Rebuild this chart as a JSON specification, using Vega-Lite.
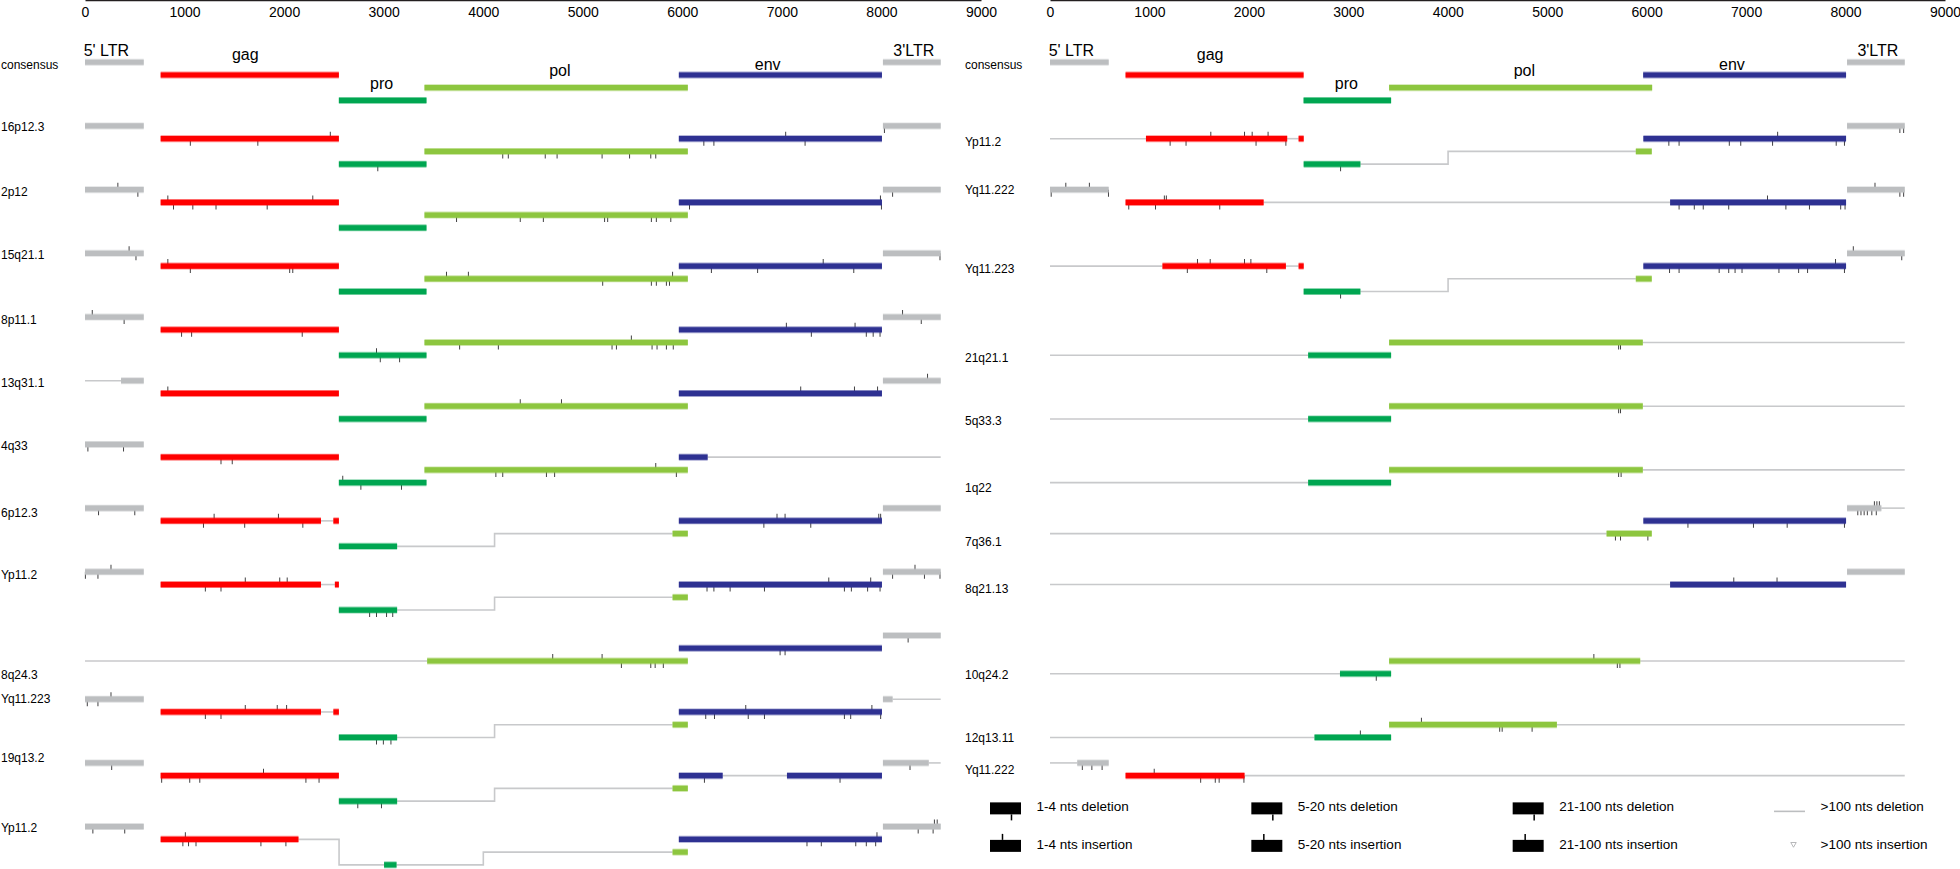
{
"$schema": "https://vega.github.io/schema/vega-lite/v6.json",
"padding": 0,
"bounds": "flush",
"spacing": 69,
"config": {
  "view": {"stroke": null},
  "font": "Liberation Sans",
  "tick": {"opacity": 1},
  "axisX": {"ticks": false, "tickSize": 0, "grid": false, "labelFlush": false, "labelOverlap": false, "labelPadding": -12, "labelBaseline": "middle", "labelFontSize": 14, "labelColor": "#000000", "domainColor": "#231F20", "domainWidth": 1.5}
},
"datasets": {
"segs": [
{"p":"L","lane":0,"g":"LTR","s":0,"e":590},{"p":"L","lane":1,"g":"gag","s":760,"e":2550},{"p":"L","lane":3,"g":"pro","s":2550,"e":3430},{"p":"L","lane":2,"g":"pol","s":3410,"e":6055},{"p":"L","lane":1,"g":"env","s":5965,"e":8005},{"p":"L","lane":0,"g":"LTR","s":8015,"e":8595},
{"p":"L","lane":5,"g":"LTR","s":0,"e":590},{"p":"L","lane":6,"g":"gag","s":760,"e":2550},{"p":"L","lane":8,"g":"pro","s":2550,"e":3430},{"p":"L","lane":7,"g":"pol","s":3410,"e":6055},{"p":"L","lane":6,"g":"env","s":5965,"e":8005},{"p":"L","lane":5,"g":"LTR","s":8015,"e":8595},
{"p":"L","lane":10,"g":"LTR","s":0,"e":590},{"p":"L","lane":11,"g":"gag","s":760,"e":2550},{"p":"L","lane":13,"g":"pro","s":2550,"e":3430},{"p":"L","lane":12,"g":"pol","s":3410,"e":6055},{"p":"L","lane":11,"g":"env","s":5965,"e":8005},{"p":"L","lane":10,"g":"LTR","s":8015,"e":8595},
{"p":"L","lane":15,"g":"LTR","s":0,"e":590},{"p":"L","lane":16,"g":"gag","s":760,"e":2550},{"p":"L","lane":18,"g":"pro","s":2550,"e":3430},{"p":"L","lane":17,"g":"pol","s":3410,"e":6055},{"p":"L","lane":16,"g":"env","s":5965,"e":8005},{"p":"L","lane":15,"g":"LTR","s":8015,"e":8595},
{"p":"L","lane":20,"g":"LTR","s":0,"e":590},{"p":"L","lane":21,"g":"gag","s":760,"e":2550},{"p":"L","lane":23,"g":"pro","s":2550,"e":3430},{"p":"L","lane":22,"g":"pol","s":3410,"e":6055},{"p":"L","lane":21,"g":"env","s":5965,"e":8005},{"p":"L","lane":20,"g":"LTR","s":8015,"e":8595},
{"p":"L","lane":25,"g":"LTR","s":362,"e":590},{"p":"L","lane":26,"g":"gag","s":760,"e":2550},{"p":"L","lane":28,"g":"pro","s":2550,"e":3430},{"p":"L","lane":27,"g":"pol","s":3410,"e":6055},{"p":"L","lane":26,"g":"env","s":5965,"e":8005},{"p":"L","lane":25,"g":"LTR","s":8015,"e":8595},
{"p":"L","lane":30,"g":"LTR","s":0,"e":590},{"p":"L","lane":31,"g":"gag","s":760,"e":2550},{"p":"L","lane":33,"g":"pro","s":2550,"e":3430},{"p":"L","lane":32,"g":"pol","s":3410,"e":6055},{"p":"L","lane":31,"g":"env","s":5965,"e":6254},
{"p":"L","lane":35,"g":"LTR","s":0,"e":590},{"p":"L","lane":36,"g":"gag","s":760,"e":2370},{"p":"L","lane":36,"g":"gag","s":2495,"e":2550},{"p":"L","lane":38,"g":"pro","s":2550,"e":3135},{"p":"L","lane":37,"g":"pol","s":5902,"e":6055},{"p":"L","lane":36,"g":"env","s":5965,"e":8005},{"p":"L","lane":35,"g":"LTR","s":8015,"e":8595},
{"p":"L","lane":40,"g":"LTR","s":0,"e":590},{"p":"L","lane":41,"g":"gag","s":760,"e":2370},{"p":"L","lane":41,"g":"gag","s":2510,"e":2550},{"p":"L","lane":43,"g":"pro","s":2550,"e":3135},{"p":"L","lane":42,"g":"pol","s":5902,"e":6055},{"p":"L","lane":41,"g":"env","s":5965,"e":8005},{"p":"L","lane":40,"g":"LTR","s":8015,"e":8595},
{"p":"L","lane":47,"g":"pol","s":3437,"e":6055},{"p":"L","lane":46,"g":"env","s":5965,"e":8005},{"p":"L","lane":45,"g":"LTR","s":8015,"e":8595},
{"p":"L","lane":50,"g":"LTR","s":0,"e":590},{"p":"L","lane":51,"g":"gag","s":760,"e":2370},{"p":"L","lane":51,"g":"gag","s":2495,"e":2550},{"p":"L","lane":53,"g":"pro","s":2550,"e":3135},{"p":"L","lane":52,"g":"pol","s":5902,"e":6055},{"p":"L","lane":51,"g":"env","s":5965,"e":8005},{"p":"L","lane":50,"g":"LTR","s":8015,"e":8112},
{"p":"L","lane":55,"g":"LTR","s":0,"e":590},{"p":"L","lane":56,"g":"gag","s":760,"e":2550},{"p":"L","lane":58,"g":"pro","s":2550,"e":3135},{"p":"L","lane":57,"g":"pol","s":5902,"e":6055},{"p":"L","lane":56,"g":"env","s":5965,"e":6405},{"p":"L","lane":56,"g":"env","s":7051,"e":8005},{"p":"L","lane":55,"g":"LTR","s":8015,"e":8475},
{"p":"L","lane":60,"g":"LTR","s":0,"e":590},{"p":"L","lane":61,"g":"gag","s":760,"e":2144},{"p":"L","lane":63,"g":"pro","s":3004,"e":3129},{"p":"L","lane":62,"g":"pol","s":5902,"e":6055},{"p":"L","lane":61,"g":"env","s":5965,"e":8005},{"p":"L","lane":60,"g":"LTR","s":8015,"e":8595},
{"p":"R","lane":0,"g":"LTR","s":0,"e":590},{"p":"R","lane":1,"g":"gag","s":760,"e":2550},{"p":"R","lane":3,"g":"pro","s":2550,"e":3430},{"p":"R","lane":2,"g":"pol","s":3410,"e":6055},{"p":"R","lane":1,"g":"env","s":5965,"e":8005},{"p":"R","lane":0,"g":"LTR","s":8015,"e":8595},
{"p":"R","lane":6,"g":"gag","s":965,"e":2385},{"p":"R","lane":6,"g":"gag","s":2500,"e":2551},{"p":"R","lane":8,"g":"pro","s":2551,"e":3121},{"p":"R","lane":7,"g":"pol","s":5891,"e":6051},{"p":"R","lane":6,"g":"env","s":5967,"e":8005},{"p":"R","lane":5,"g":"LTR","s":8015,"e":8595},
{"p":"R","lane":10,"g":"LTR","s":0,"e":590},{"p":"R","lane":11,"g":"gag","s":760,"e":2148},{"p":"R","lane":11,"g":"env","s":6236,"e":8005},{"p":"R","lane":10,"g":"LTR","s":8015,"e":8595},
{"p":"R","lane":16,"g":"gag","s":1131,"e":2372},{"p":"R","lane":16,"g":"gag","s":2500,"e":2551},{"p":"R","lane":18,"g":"pro","s":2551,"e":3121},{"p":"R","lane":17,"g":"pol","s":5891,"e":6051},{"p":"R","lane":16,"g":"env","s":5967,"e":8005},{"p":"R","lane":15,"g":"LTR","s":8015,"e":8595},
{"p":"R","lane":23,"g":"pro","s":2596,"e":3430},{"p":"R","lane":22,"g":"pol","s":3410,"e":5961},
{"p":"R","lane":28,"g":"pro","s":2596,"e":3430},{"p":"R","lane":27,"g":"pol","s":3410,"e":5961},
{"p":"R","lane":33,"g":"pro","s":2596,"e":3430},{"p":"R","lane":32,"g":"pol","s":3410,"e":5961},
{"p":"R","lane":37,"g":"pol","s":5597,"e":6051},{"p":"R","lane":36,"g":"env","s":5967,"e":8005},{"p":"R","lane":35,"g":"LTR","s":8015,"e":8360},
{"p":"R","lane":41,"g":"env","s":6236,"e":8005},{"p":"R","lane":40,"g":"LTR","s":8015,"e":8595},
{"p":"R","lane":48,"g":"pro","s":2916,"e":3430},{"p":"R","lane":47,"g":"pol","s":3410,"e":5935},
{"p":"R","lane":53,"g":"pro","s":2660,"e":3430},{"p":"R","lane":52,"g":"pol","s":3410,"e":5097},
{"p":"R","lane":55,"g":"LTR","s":274,"e":590},{"p":"R","lane":56,"g":"gag","s":760,"e":1956}
],
"dl": [
{"p":"L","id":"L5a","o":0,"x":0,"lane":25},{"p":"L","id":"L5a","o":1,"x":362,"lane":25},
{"p":"L","id":"L6a","o":0,"x":6254,"lane":31},{"p":"L","id":"L6a","o":1,"x":8595,"lane":31},
{"p":"L","id":"L7a","o":0,"x":2370,"lane":36},{"p":"L","id":"L7a","o":1,"x":2495,"lane":36},
{"p":"L","id":"L7b","o":0,"x":3135,"lane":38},{"p":"L","id":"L7b","o":1,"x":4114,"lane":38},{"p":"L","id":"L7b","o":2,"x":4114,"lane":37},{"p":"L","id":"L7b","o":3,"x":5902,"lane":37},
{"p":"L","id":"L8a","o":0,"x":2370,"lane":41},{"p":"L","id":"L8a","o":1,"x":2510,"lane":41},
{"p":"L","id":"L8b","o":0,"x":3135,"lane":43},{"p":"L","id":"L8b","o":1,"x":4114,"lane":43},{"p":"L","id":"L8b","o":2,"x":4114,"lane":42},{"p":"L","id":"L8b","o":3,"x":5902,"lane":42},
{"p":"L","id":"L9a","o":0,"x":0,"lane":47},{"p":"L","id":"L9a","o":1,"x":3437,"lane":47},
{"p":"L","id":"L10a","o":0,"x":2370,"lane":51},{"p":"L","id":"L10a","o":1,"x":2495,"lane":51},
{"p":"L","id":"L10b","o":0,"x":3135,"lane":53},{"p":"L","id":"L10b","o":1,"x":4114,"lane":53},{"p":"L","id":"L10b","o":2,"x":4114,"lane":52},{"p":"L","id":"L10b","o":3,"x":5902,"lane":52},
{"p":"L","id":"L10c","o":0,"x":8112,"lane":50},{"p":"L","id":"L10c","o":1,"x":8595,"lane":50},
{"p":"L","id":"L11a","o":0,"x":3135,"lane":58},{"p":"L","id":"L11a","o":1,"x":4114,"lane":58},{"p":"L","id":"L11a","o":2,"x":4114,"lane":57},{"p":"L","id":"L11a","o":3,"x":5902,"lane":57},
{"p":"L","id":"L11b","o":0,"x":6405,"lane":56},{"p":"L","id":"L11b","o":1,"x":7051,"lane":56},
{"p":"L","id":"L11c","o":0,"x":8475,"lane":55},{"p":"L","id":"L11c","o":1,"x":8595,"lane":55},
{"p":"L","id":"L12a","o":0,"x":2144,"lane":61},{"p":"L","id":"L12a","o":1,"x":2552,"lane":61},{"p":"L","id":"L12a","o":2,"x":2552,"lane":63},{"p":"L","id":"L12a","o":3,"x":3004,"lane":63},
{"p":"L","id":"L12b","o":0,"x":3129,"lane":63},{"p":"L","id":"L12b","o":1,"x":4001,"lane":63},{"p":"L","id":"L12b","o":2,"x":4001,"lane":62},{"p":"L","id":"L12b","o":3,"x":5902,"lane":62},
{"p":"R","id":"R1a","o":0,"x":0,"lane":6},{"p":"R","id":"R1a","o":1,"x":965,"lane":6},
{"p":"R","id":"R1b","o":0,"x":2385,"lane":6},{"p":"R","id":"R1b","o":1,"x":2500,"lane":6},
{"p":"R","id":"R1c","o":0,"x":3121,"lane":8},{"p":"R","id":"R1c","o":1,"x":4003,"lane":8},{"p":"R","id":"R1c","o":2,"x":4003,"lane":7},{"p":"R","id":"R1c","o":3,"x":5891,"lane":7},
{"p":"R","id":"R2a","o":0,"x":2148,"lane":11},{"p":"R","id":"R2a","o":1,"x":6236,"lane":11},
{"p":"R","id":"R3a","o":0,"x":0,"lane":16},{"p":"R","id":"R3a","o":1,"x":1131,"lane":16},
{"p":"R","id":"R3b","o":0,"x":2372,"lane":16},{"p":"R","id":"R3b","o":1,"x":2500,"lane":16},
{"p":"R","id":"R3c","o":0,"x":3121,"lane":18},{"p":"R","id":"R3c","o":1,"x":4003,"lane":18},{"p":"R","id":"R3c","o":2,"x":4003,"lane":17},{"p":"R","id":"R3c","o":3,"x":5891,"lane":17},
{"p":"R","id":"R4a","o":0,"x":0,"lane":23},{"p":"R","id":"R4a","o":1,"x":2596,"lane":23},
{"p":"R","id":"R4b","o":0,"x":5961,"lane":22},{"p":"R","id":"R4b","o":1,"x":8595,"lane":22},
{"p":"R","id":"R5a","o":0,"x":0,"lane":28},{"p":"R","id":"R5a","o":1,"x":2596,"lane":28},
{"p":"R","id":"R5b","o":0,"x":5961,"lane":27},{"p":"R","id":"R5b","o":1,"x":8595,"lane":27},
{"p":"R","id":"R6a","o":0,"x":0,"lane":33},{"p":"R","id":"R6a","o":1,"x":2596,"lane":33},
{"p":"R","id":"R6b","o":0,"x":5961,"lane":32},{"p":"R","id":"R6b","o":1,"x":8595,"lane":32},
{"p":"R","id":"R7a","o":0,"x":0,"lane":37},{"p":"R","id":"R7a","o":1,"x":5597,"lane":37},
{"p":"R","id":"R7b","o":0,"x":8360,"lane":35},{"p":"R","id":"R7b","o":1,"x":8595,"lane":35},
{"p":"R","id":"R8a","o":0,"x":0,"lane":41},{"p":"R","id":"R8a","o":1,"x":6236,"lane":41},
{"p":"R","id":"R9a","o":0,"x":0,"lane":48},{"p":"R","id":"R9a","o":1,"x":2916,"lane":48},
{"p":"R","id":"R9b","o":0,"x":5935,"lane":47},{"p":"R","id":"R9b","o":1,"x":8595,"lane":47},
{"p":"R","id":"R10a","o":0,"x":0,"lane":53},{"p":"R","id":"R10a","o":1,"x":2660,"lane":53},
{"p":"R","id":"R10b","o":0,"x":5097,"lane":52},{"p":"R","id":"R10b","o":1,"x":8595,"lane":52},
{"p":"R","id":"R11a","o":0,"x":0,"lane":55},{"p":"R","id":"R11a","o":1,"x":274,"lane":55},
{"p":"R","id":"R11b","o":0,"x":1956,"lane":56},{"p":"R","id":"R11b","o":1,"x":8595,"lane":56}
],
"tk": [
{"p":"L","lane":6,"x":2464,"t":"i"},{"p":"L","lane":6,"x":1058,"t":"d"},{"p":"L","lane":6,"x":1736,"t":"d"},{"p":"L","lane":8,"x":2941,"t":"d"},{"p":"L","lane":7,"x":4196,"t":"d"},{"p":"L","lane":7,"x":4252,"t":"d"},{"p":"L","lane":7,"x":4623,"t":"d"},{"p":"L","lane":7,"x":4742,"t":"d"},{"p":"L","lane":7,"x":5194,"t":"d"},{"p":"L","lane":7,"x":5470,"t":"d"},{"p":"L","lane":7,"x":5683,"t":"d"},{"p":"L","lane":7,"x":5733,"t":"d"},{"p":"L","lane":6,"x":7038,"t":"i"},{"p":"L","lane":6,"x":6216,"t":"d"},{"p":"L","lane":6,"x":6317,"t":"d"},{"p":"L","lane":6,"x":7233,"t":"d"},{"p":"L","lane":5,"x":8030,"t":"d"},
{"p":"L","lane":10,"x":330,"t":"i"},{"p":"L","lane":10,"x":531,"t":"d"},{"p":"L","lane":11,"x":832,"t":"i"},{"p":"L","lane":11,"x":2288,"t":"i"},{"p":"L","lane":11,"x":889,"t":"d"},{"p":"L","lane":11,"x":1083,"t":"d"},{"p":"L","lane":11,"x":1316,"t":"d"},{"p":"L","lane":11,"x":1830,"t":"d"},{"p":"L","lane":12,"x":3732,"t":"d"},{"p":"L","lane":12,"x":4372,"t":"d"},{"p":"L","lane":12,"x":4604,"t":"d"},{"p":"L","lane":12,"x":5219,"t":"d"},{"p":"L","lane":12,"x":5250,"t":"d"},{"p":"L","lane":12,"x":5689,"t":"d"},{"p":"L","lane":12,"x":5739,"t":"d"},{"p":"L","lane":12,"x":5884,"t":"d"},{"p":"L","lane":11,"x":7990,"t":"i"},{"p":"L","lane":11,"x":6072,"t":"d"},{"p":"L","lane":11,"x":8000,"t":"d"},{"p":"L","lane":10,"x":8112,"t":"d"},
{"p":"L","lane":15,"x":443,"t":"i"},{"p":"L","lane":15,"x":512,"t":"d"},{"p":"L","lane":16,"x":832,"t":"i"},{"p":"L","lane":16,"x":1058,"t":"d"},{"p":"L","lane":16,"x":2056,"t":"d"},{"p":"L","lane":16,"x":2087,"t":"d"},{"p":"L","lane":17,"x":3631,"t":"i"},{"p":"L","lane":17,"x":3851,"t":"i"},{"p":"L","lane":17,"x":5902,"t":"i"},{"p":"L","lane":17,"x":5200,"t":"d"},{"p":"L","lane":17,"x":5689,"t":"d"},{"p":"L","lane":17,"x":5739,"t":"d"},{"p":"L","lane":17,"x":5840,"t":"d"},{"p":"L","lane":17,"x":5871,"t":"d"},{"p":"L","lane":16,"x":7415,"t":"i"},{"p":"L","lane":16,"x":6292,"t":"d"},{"p":"L","lane":16,"x":6756,"t":"d"},{"p":"L","lane":16,"x":7722,"t":"d"},{"p":"L","lane":15,"x":8588,"t":"d"},
{"p":"L","lane":20,"x":73,"t":"i"},{"p":"L","lane":20,"x":393,"t":"d"},{"p":"L","lane":21,"x":970,"t":"d"},{"p":"L","lane":21,"x":1071,"t":"d"},{"p":"L","lane":21,"x":2182,"t":"d"},{"p":"L","lane":23,"x":2928,"t":"i"},{"p":"L","lane":23,"x":2966,"t":"d"},{"p":"L","lane":23,"x":3160,"t":"d"},{"p":"L","lane":22,"x":5488,"t":"i"},{"p":"L","lane":22,"x":3763,"t":"d"},{"p":"L","lane":22,"x":4152,"t":"d"},{"p":"L","lane":22,"x":5294,"t":"d"},{"p":"L","lane":22,"x":5338,"t":"d"},{"p":"L","lane":22,"x":5696,"t":"d"},{"p":"L","lane":22,"x":5746,"t":"d"},{"p":"L","lane":22,"x":5840,"t":"d"},{"p":"L","lane":22,"x":5909,"t":"d"},{"p":"L","lane":21,"x":7045,"t":"i"},{"p":"L","lane":21,"x":7735,"t":"i"},{"p":"L","lane":21,"x":7296,"t":"d"},{"p":"L","lane":21,"x":7848,"t":"d"},{"p":"L","lane":21,"x":7917,"t":"d"},{"p":"L","lane":21,"x":7986,"t":"d"},{"p":"L","lane":20,"x":8212,"t":"i"},{"p":"L","lane":20,"x":8400,"t":"d"},
{"p":"L","lane":26,"x":832,"t":"i"},{"p":"L","lane":27,"x":4372,"t":"i"},{"p":"L","lane":27,"x":4786,"t":"i"},{"p":"L","lane":26,"x":7189,"t":"i"},{"p":"L","lane":26,"x":7729,"t":"i"},{"p":"L","lane":26,"x":7961,"t":"i"},{"p":"L","lane":25,"x":8463,"t":"i"},
{"p":"L","lane":30,"x":29,"t":"d"},{"p":"L","lane":30,"x":387,"t":"d"},{"p":"L","lane":31,"x":1366,"t":"d"},{"p":"L","lane":31,"x":1479,"t":"d"},{"p":"L","lane":33,"x":2589,"t":"i"},{"p":"L","lane":33,"x":2771,"t":"d"},{"p":"L","lane":33,"x":3179,"t":"d"},{"p":"L","lane":32,"x":5733,"t":"i"},{"p":"L","lane":32,"x":4127,"t":"d"},{"p":"L","lane":32,"x":4196,"t":"d"},{"p":"L","lane":32,"x":4635,"t":"d"},{"p":"L","lane":32,"x":4717,"t":"d"},{"p":"L","lane":32,"x":5940,"t":"d"},
{"p":"L","lane":35,"x":136,"t":"d"},{"p":"L","lane":35,"x":500,"t":"d"},{"p":"L","lane":36,"x":1297,"t":"i"},{"p":"L","lane":36,"x":1943,"t":"i"},{"p":"L","lane":36,"x":1190,"t":"d"},{"p":"L","lane":36,"x":1604,"t":"d"},{"p":"L","lane":36,"x":2188,"t":"d"},{"p":"L","lane":36,"x":6951,"t":"i"},{"p":"L","lane":36,"x":7032,"t":"i"},{"p":"L","lane":36,"x":7973,"t":"i"},{"p":"L","lane":36,"x":7992,"t":"i"},{"p":"L","lane":36,"x":6819,"t":"d"},{"p":"L","lane":36,"x":7290,"t":"d"},
{"p":"L","lane":40,"x":261,"t":"i"},{"p":"L","lane":40,"x":4,"t":"d"},{"p":"L","lane":40,"x":130,"t":"d"},{"p":"L","lane":41,"x":1610,"t":"i"},{"p":"L","lane":41,"x":1956,"t":"i"},{"p":"L","lane":41,"x":2031,"t":"i"},{"p":"L","lane":41,"x":1209,"t":"d"},{"p":"L","lane":41,"x":1366,"t":"d"},{"p":"L","lane":43,"x":2859,"t":"d"},{"p":"L","lane":43,"x":2928,"t":"d"},{"p":"L","lane":43,"x":3029,"t":"d"},{"p":"L","lane":43,"x":3091,"t":"d"},{"p":"L","lane":41,"x":7471,"t":"i"},{"p":"L","lane":41,"x":7892,"t":"i"},{"p":"L","lane":41,"x":6248,"t":"d"},{"p":"L","lane":41,"x":6317,"t":"d"},{"p":"L","lane":41,"x":6480,"t":"d"},{"p":"L","lane":41,"x":6825,"t":"d"},{"p":"L","lane":41,"x":7628,"t":"d"},{"p":"L","lane":41,"x":7698,"t":"d"},{"p":"L","lane":41,"x":7861,"t":"d"},{"p":"L","lane":41,"x":7986,"t":"d"},{"p":"L","lane":40,"x":8337,"t":"i"},{"p":"L","lane":40,"x":8112,"t":"d"},{"p":"L","lane":40,"x":8432,"t":"d"},{"p":"L","lane":40,"x":8588,"t":"d"},
{"p":"L","lane":47,"x":4698,"t":"i"},{"p":"L","lane":47,"x":5194,"t":"i"},{"p":"L","lane":47,"x":5388,"t":"d"},{"p":"L","lane":47,"x":5683,"t":"d"},{"p":"L","lane":47,"x":5727,"t":"d"},{"p":"L","lane":47,"x":5809,"t":"d"},{"p":"L","lane":46,"x":6982,"t":"d"},{"p":"L","lane":46,"x":7032,"t":"d"},{"p":"L","lane":45,"x":8268,"t":"d"},
{"p":"L","lane":50,"x":261,"t":"i"},{"p":"L","lane":50,"x":23,"t":"d"},{"p":"L","lane":50,"x":130,"t":"d"},{"p":"L","lane":51,"x":1610,"t":"i"},{"p":"L","lane":51,"x":1931,"t":"i"},{"p":"L","lane":51,"x":2025,"t":"i"},{"p":"L","lane":51,"x":1209,"t":"d"},{"p":"L","lane":51,"x":1366,"t":"d"},{"p":"L","lane":53,"x":2928,"t":"d"},{"p":"L","lane":53,"x":2997,"t":"d"},{"p":"L","lane":53,"x":3073,"t":"d"},{"p":"L","lane":51,"x":6637,"t":"i"},{"p":"L","lane":51,"x":7904,"t":"i"},{"p":"L","lane":51,"x":6235,"t":"d"},{"p":"L","lane":51,"x":6323,"t":"d"},{"p":"L","lane":51,"x":6662,"t":"d"},{"p":"L","lane":51,"x":6825,"t":"d"},{"p":"L","lane":51,"x":7628,"t":"d"},{"p":"L","lane":51,"x":7691,"t":"d"},{"p":"L","lane":51,"x":7992,"t":"d"},
{"p":"L","lane":55,"x":268,"t":"d"},{"p":"L","lane":56,"x":1793,"t":"i"},{"p":"L","lane":56,"x":770,"t":"d"},{"p":"L","lane":56,"x":1052,"t":"d"},{"p":"L","lane":56,"x":1153,"t":"d"},{"p":"L","lane":56,"x":2219,"t":"d"},{"p":"L","lane":56,"x":2351,"t":"d"},{"p":"L","lane":58,"x":2740,"t":"d"},{"p":"L","lane":58,"x":2978,"t":"d"},{"p":"L","lane":56,"x":6222,"t":"d"},{"p":"L","lane":56,"x":7584,"t":"d"},{"p":"L","lane":55,"x":8287,"t":"d"},
{"p":"L","lane":60,"x":79,"t":"d"},{"p":"L","lane":60,"x":399,"t":"d"},{"p":"L","lane":61,"x":1008,"t":"i"},{"p":"L","lane":61,"x":983,"t":"d"},{"p":"L","lane":61,"x":1040,"t":"d"},{"p":"L","lane":61,"x":1115,"t":"d"},{"p":"L","lane":61,"x":1767,"t":"d"},{"p":"L","lane":61,"x":2018,"t":"d"},{"p":"L","lane":61,"x":7955,"t":"i"},{"p":"L","lane":61,"x":7252,"t":"d"},{"p":"L","lane":61,"x":7396,"t":"d"},{"p":"L","lane":61,"x":7742,"t":"d"},{"p":"L","lane":61,"x":7848,"t":"d"},{"p":"L","lane":61,"x":7942,"t":"d"},{"p":"L","lane":60,"x":8532,"t":"i"},{"p":"L","lane":60,"x":8560,"t":"i"},{"p":"L","lane":60,"x":8369,"t":"d"},{"p":"L","lane":60,"x":8519,"t":"d"},
{"p":"R","lane":6,"x":1617,"t":"i"},{"p":"R","lane":6,"x":1956,"t":"i"},{"p":"R","lane":6,"x":2033,"t":"i"},{"p":"R","lane":6,"x":2193,"t":"i"},{"p":"R","lane":6,"x":1208,"t":"d"},{"p":"R","lane":6,"x":1368,"t":"d"},{"p":"R","lane":6,"x":2072,"t":"d"},{"p":"R","lane":6,"x":2372,"t":"d"},{"p":"R","lane":8,"x":2922,"t":"d"},{"p":"R","lane":6,"x":7317,"t":"i"},{"p":"R","lane":6,"x":6223,"t":"d"},{"p":"R","lane":6,"x":6326,"t":"d"},{"p":"R","lane":6,"x":6831,"t":"d"},{"p":"R","lane":6,"x":6946,"t":"d"},{"p":"R","lane":6,"x":7266,"t":"d"},{"p":"R","lane":6,"x":7906,"t":"d"},{"p":"R","lane":6,"x":7989,"t":"d"},{"p":"R","lane":5,"x":8546,"t":"d"},{"p":"R","lane":5,"x":8584,"t":"d"},
{"p":"R","lane":10,"x":159,"t":"i"},{"p":"R","lane":10,"x":396,"t":"i"},{"p":"R","lane":10,"x":12,"t":"d"},{"p":"R","lane":10,"x":588,"t":"d"},{"p":"R","lane":11,"x":1150,"t":"i"},{"p":"R","lane":11,"x":1170,"t":"i"},{"p":"R","lane":11,"x":792,"t":"d"},{"p":"R","lane":11,"x":1061,"t":"d"},{"p":"R","lane":11,"x":1707,"t":"d"},{"p":"R","lane":11,"x":7215,"t":"i"},{"p":"R","lane":11,"x":6326,"t":"d"},{"p":"R","lane":11,"x":6479,"t":"d"},{"p":"R","lane":11,"x":6569,"t":"d"},{"p":"R","lane":11,"x":6825,"t":"d"},{"p":"R","lane":11,"x":7400,"t":"d"},{"p":"R","lane":11,"x":7637,"t":"d"},{"p":"R","lane":11,"x":7951,"t":"d"},{"p":"R","lane":11,"x":7995,"t":"d"},{"p":"R","lane":10,"x":8296,"t":"i"},{"p":"R","lane":10,"x":8546,"t":"d"},{"p":"R","lane":10,"x":8584,"t":"d"},
{"p":"R","lane":16,"x":1483,"t":"i"},{"p":"R","lane":16,"x":1611,"t":"i"},{"p":"R","lane":16,"x":1956,"t":"i"},{"p":"R","lane":16,"x":2020,"t":"i"},{"p":"R","lane":16,"x":1381,"t":"d"},{"p":"R","lane":16,"x":2180,"t":"d"},{"p":"R","lane":18,"x":2922,"t":"d"},{"p":"R","lane":16,"x":7899,"t":"i"},{"p":"R","lane":16,"x":6230,"t":"d"},{"p":"R","lane":16,"x":6326,"t":"d"},{"p":"R","lane":16,"x":6729,"t":"d"},{"p":"R","lane":16,"x":6825,"t":"d"},{"p":"R","lane":16,"x":6889,"t":"d"},{"p":"R","lane":16,"x":6959,"t":"d"},{"p":"R","lane":16,"x":7330,"t":"d"},{"p":"R","lane":16,"x":7528,"t":"d"},{"p":"R","lane":16,"x":7618,"t":"d"},{"p":"R","lane":16,"x":7989,"t":"d"},{"p":"R","lane":15,"x":8078,"t":"i"},{"p":"R","lane":15,"x":8565,"t":"d"},
{"p":"R","lane":22,"x":5718,"t":"d"},{"p":"R","lane":22,"x":5737,"t":"d"},
{"p":"R","lane":27,"x":5718,"t":"d"},{"p":"R","lane":27,"x":5737,"t":"d"},
{"p":"R","lane":32,"x":5718,"t":"d"},{"p":"R","lane":32,"x":5743,"t":"d"},
{"p":"R","lane":37,"x":5686,"t":"d"},{"p":"R","lane":37,"x":5737,"t":"d"},{"p":"R","lane":37,"x":6012,"t":"d"},{"p":"R","lane":36,"x":6415,"t":"d"},{"p":"R","lane":36,"x":7074,"t":"d"},{"p":"R","lane":36,"x":7413,"t":"d"},{"p":"R","lane":36,"x":7989,"t":"d"},{"p":"R","lane":35,"x":8290,"t":"i"},{"p":"R","lane":35,"x":8315,"t":"i"},{"p":"R","lane":35,"x":8340,"t":"i"},{"p":"R","lane":35,"x":8123,"t":"d"},{"p":"R","lane":35,"x":8155,"t":"d"},{"p":"R","lane":35,"x":8187,"t":"d"},{"p":"R","lane":35,"x":8219,"t":"d"},{"p":"R","lane":35,"x":8264,"t":"d"},{"p":"R","lane":35,"x":8309,"t":"d"},
{"p":"R","lane":41,"x":6876,"t":"i"},{"p":"R","lane":41,"x":7311,"t":"i"},
{"p":"R","lane":48,"x":3281,"t":"d"},{"p":"R","lane":47,"x":5469,"t":"i"},{"p":"R","lane":47,"x":5705,"t":"d"},{"p":"R","lane":47,"x":5731,"t":"d"},
{"p":"R","lane":53,"x":3121,"t":"i"},{"p":"R","lane":52,"x":3735,"t":"i"},{"p":"R","lane":52,"x":4522,"t":"d"},{"p":"R","lane":52,"x":4547,"t":"d"},{"p":"R","lane":52,"x":4848,"t":"d"},
{"p":"R","lane":55,"x":325,"t":"d"},{"p":"R","lane":55,"x":421,"t":"d"},{"p":"R","lane":55,"x":524,"t":"d"},{"p":"R","lane":56,"x":1048,"t":"i"},{"p":"R","lane":56,"x":1515,"t":"d"},{"p":"R","lane":56,"x":1662,"t":"d"},{"p":"R","lane":56,"x":1701,"t":"d"},{"p":"R","lane":56,"x":1950,"t":"d"}
],
"names": [
{"p":"L","lane":0.25,"name":"consensus"},{"p":"L","lane":5.08,"name":"16p12.3"},{"p":"L","lane":10.2,"name":"2p12"},{"p":"L","lane":15.13,"name":"15q21.1"},{"p":"L","lane":20.2,"name":"8p11.1"},{"p":"L","lane":25.15,"name":"13q31.1"},{"p":"L","lane":30.1,"name":"4q33"},{"p":"L","lane":35.4,"name":"6p12.3"},{"p":"L","lane":40.22,"name":"Yp11.2"},{"p":"L","lane":48.1,"name":"8q24.3"},{"p":"L","lane":49.98,"name":"Yq11.223"},{"p":"L","lane":54.6,"name":"19q13.2"},{"p":"L","lane":60.1,"name":"Yp11.2"},
{"p":"R","lane":0.25,"name":"consensus"},{"p":"R","lane":6.25,"name":"Yp11.2"},{"p":"R","lane":10.05,"name":"Yq11.222"},{"p":"R","lane":16.2,"name":"Yq11.223"},{"p":"R","lane":23.2,"name":"21q21.1"},{"p":"R","lane":28.15,"name":"5q33.3"},{"p":"R","lane":33.4,"name":"1q22"},{"p":"R","lane":37.65,"name":"7q36.1"},{"p":"R","lane":41.35,"name":"8q21.13"},{"p":"R","lane":48.1,"name":"10q24.2"},{"p":"R","lane":53.05,"name":"12q13.11"},{"p":"R","lane":55.55,"name":"Yq11.222"}
],
"genes": [
{"x":215,"lane":-0.47,"name":"5' LTR"},{"x":1610,"lane":-0.16,"name":"gag"},{"x":2980,"lane":2.08,"name":"pro"},{"x":4770,"lane":1.1,"name":"pol"},{"x":6857,"lane":0.59,"name":"env"},{"x":8325,"lane":-0.47,"name":"3'LTR"}
],
"leg": [
{"col":0,"row":0,"label":"1-4 nts deletion"},{"col":0,"row":1,"label":"1-4 nts insertion"},{"col":1,"row":0,"label":"5-20 nts deletion"},{"col":1,"row":1,"label":"5-20 nts insertion"},{"col":2,"row":0,"label":"21-100 nts deletion"},{"col":2,"row":1,"label":"21-100 nts insertion"},{"col":3,"row":0,"label":">100 nts deletion"},{"col":3,"row":1,"label":">100 nts insertion"}
]
},
"hconcat": [
{
"width": 896, "height": 867,
"layer": [
{"data":{"name":"dl"},"transform":[{"filter":"datum.p==='L'"}],"mark":{"type":"line","color":"#C8C9CB","strokeWidth":1.6},
 "encoding":{"x":{"field":"x","type":"quantitative","scale":{"domain":[0,9000],"nice":false,"zero":false},"axis":{"orient":"top","title":null,"values":[0,1000,2000,3000,4000,5000,6000,7000,8000,9000],"format":"d"}},
 "y":{"field":"lane","type":"quantitative","scale":{"domain":[-4.886,63.17],"reverse":true,"nice":false,"zero":false},"axis":null},
 "detail":{"field":"id"},"order":{"field":"o","type":"quantitative"}}},
{"data":{"name":"tk"},"transform":[{"filter":"datum.p==='L' && datum.t==='d'"}],"mark":{"type":"tick","orient":"vertical","size":7,"thickness":1,"yOffset":3.5,"opacity":1,"color":"#414042"},
 "encoding":{"x":{"field":"x","type":"quantitative","axis":{"orient":"top","title":null}},"y":{"field":"lane","type":"quantitative","axis":null}}},
{"data":{"name":"tk"},"transform":[{"filter":"datum.p==='L' && datum.t==='i'"}],"mark":{"type":"tick","orient":"vertical","size":7,"thickness":1,"yOffset":-3.5,"opacity":1,"color":"#414042"},
 "encoding":{"x":{"field":"x","type":"quantitative","axis":{"orient":"top","title":null}},"y":{"field":"lane","type":"quantitative","axis":null}}},
{"data":{"name":"segs"},"transform":[{"filter":"datum.p==='L'"}],"mark":{"type":"rule","strokeWidth":7,"opacity":0.45},
 "encoding":{"x":{"field":"s","type":"quantitative","axis":{"orient":"top","title":null}},"x2":{"field":"e"},"y":{"field":"lane","type":"quantitative","axis":null},
 "color":{"field":"g","type":"nominal","scale":{"domain":["LTR","gag","pro","pol","env"],"range":["#BCBEC0","#FF0000","#00A651","#8DC63F","#2E3192"]},"legend":null}}},
{"data":{"name":"segs"},"transform":[{"filter":"datum.p==='L'"}],"mark":{"type":"rule","strokeWidth":5.2},
 "encoding":{"x":{"field":"s","type":"quantitative","axis":{"orient":"top","title":null}},"x2":{"field":"e"},"y":{"field":"lane","type":"quantitative","axis":null},
 "color":{"field":"g","type":"nominal","legend":null}}},
{"data":{"name":"genes"},"mark":{"type":"text","fontSize":16,"baseline":"alphabetic","align":"center","color":"#000000"},
 "encoding":{"x":{"field":"x","type":"quantitative","axis":{"orient":"top","title":null}},"y":{"field":"lane","type":"quantitative","axis":null},"text":{"field":"name"}}},
{"data":{"name":"names"},"transform":[{"filter":"datum.p==='L'"}],"mark":{"type":"text","fontSize":12,"baseline":"middle","align":"left","color":"#000000"},
 "encoding":{"x":{"datum":-844,"type":"quantitative"},"y":{"field":"lane","type":"quantitative","axis":null},"text":{"field":"name"}}}
]
},
{
"width": 895, "height": 867,
"layer": [
{"layer": [
{"data":{"name":"dl"},"transform":[{"filter":"datum.p==='R'"}],"mark":{"type":"line","color":"#C8C9CB","strokeWidth":1.6},
 "encoding":{"x":{"field":"x","type":"quantitative","scale":{"domain":[0,9000],"nice":false,"zero":false},"axis":{"orient":"top","title":null,"values":[0,1000,2000,3000,4000,5000,6000,7000,8000,9000],"format":"d"}},
 "y":{"field":"lane","type":"quantitative","scale":{"domain":[-4.886,63.17],"reverse":true,"nice":false,"zero":false},"axis":null},
 "detail":{"field":"id"},"order":{"field":"o","type":"quantitative"}}},
{"data":{"name":"tk"},"transform":[{"filter":"datum.p==='R' && datum.t==='d'"}],"mark":{"type":"tick","orient":"vertical","size":7,"thickness":1,"yOffset":3.5,"opacity":1,"color":"#414042"},
 "encoding":{"x":{"field":"x","type":"quantitative","axis":{"orient":"top","title":null}},"y":{"field":"lane","type":"quantitative","axis":null}}},
{"data":{"name":"tk"},"transform":[{"filter":"datum.p==='R' && datum.t==='i'"}],"mark":{"type":"tick","orient":"vertical","size":7,"thickness":1,"yOffset":-3.5,"opacity":1,"color":"#414042"},
 "encoding":{"x":{"field":"x","type":"quantitative","axis":{"orient":"top","title":null}},"y":{"field":"lane","type":"quantitative","axis":null}}},
{"data":{"name":"segs"},"transform":[{"filter":"datum.p==='R'"}],"mark":{"type":"rule","strokeWidth":7,"opacity":0.45},
 "encoding":{"x":{"field":"s","type":"quantitative","axis":{"orient":"top","title":null}},"x2":{"field":"e"},"y":{"field":"lane","type":"quantitative","axis":null},
 "color":{"field":"g","type":"nominal","scale":{"domain":["LTR","gag","pro","pol","env"],"range":["#BCBEC0","#FF0000","#00A651","#8DC63F","#2E3192"]},"legend":null}}},
{"data":{"name":"segs"},"transform":[{"filter":"datum.p==='R'"}],"mark":{"type":"rule","strokeWidth":5.2},
 "encoding":{"x":{"field":"s","type":"quantitative","axis":{"orient":"top","title":null}},"x2":{"field":"e"},"y":{"field":"lane","type":"quantitative","axis":null},
 "color":{"field":"g","type":"nominal","legend":null}}},
{"data":{"name":"genes"},"mark":{"type":"text","fontSize":16,"baseline":"alphabetic","align":"center","color":"#000000"},
 "encoding":{"x":{"field":"x","type":"quantitative","axis":{"orient":"top","title":null}},"y":{"field":"lane","type":"quantitative","axis":null},"text":{"field":"name"}}},
{"data":{"name":"names"},"transform":[{"filter":"datum.p==='R'"}],"mark":{"type":"text","fontSize":12,"baseline":"middle","align":"left","color":"#000000"},
 "encoding":{"x":{"datum":-855,"type":"quantitative"},"y":{"field":"lane","type":"quantitative","axis":null},"text":{"field":"name"}}}
]},
{"layer": [
{"data":{"name":"leg"},"transform":[{"filter":"datum.col<3"}],"mark":{"type":"tick","orient":"horizontal","size":31,"thickness":12,"yOffset":1,"opacity":1,"color":"#000000"},
 "encoding":{"x":{"field":"col","type":"quantitative","scale":{"domain":[0.1703,3.595],"nice":false,"zero":false},"axis":null},
 "y":{"field":"row","type":"quantitative","scale":{"domain":[-21.53,1.59],"reverse":true,"nice":false,"zero":false},"axis":null}}},
{"data":{"name":"leg"},"transform":[{"filter":"datum.col<3 && datum.row===0"}],"mark":{"type":"tick","orient":"vertical","size":6,"thickness":1.5,"yOffset":10,"xOffset":6,"opacity":1,"color":"#000000"},
 "encoding":{"x":{"field":"col","type":"quantitative","axis":null},"y":{"field":"row","type":"quantitative","axis":null}}},
{"data":{"name":"leg"},"transform":[{"filter":"datum.col<3 && datum.row===1"}],"mark":{"type":"tick","orient":"vertical","size":6,"thickness":1.5,"yOffset":-8,"xOffset":-3,"opacity":1,"color":"#000000"},
 "encoding":{"x":{"field":"col","type":"quantitative","axis":null},"y":{"field":"row","type":"quantitative","axis":null}}},
{"data":{"name":"leg"},"transform":[{"filter":"datum.col===3 && datum.row===0"}],"mark":{"type":"tick","orient":"horizontal","size":31,"thickness":1.6,"yOffset":4,"opacity":1,"color":"#BCBEC0"},
 "encoding":{"x":{"field":"col","type":"quantitative","axis":null},"y":{"field":"row","type":"quantitative","axis":null}}},
{"data":{"name":"leg"},"transform":[{"filter":"datum.col===3 && datum.row===1"}],"mark":{"type":"point","shape":"triangle-down","size":30,"filled":false,"strokeWidth":0.8,"color":"#808285","xOffset":4},
 "encoding":{"x":{"field":"col","type":"quantitative","axis":null},"y":{"field":"row","type":"quantitative","axis":null}}},
{"data":{"name":"leg"},"mark":{"type":"text","fontSize":13.5,"baseline":"middle","align":"left","dx":31,"color":"#000000"},
 "encoding":{"x":{"field":"col","type":"quantitative","axis":null},"y":{"field":"row","type":"quantitative","axis":null},"text":{"field":"label"}}}
]}
],
"resolve": {"scale": {"x": "independent", "y": "independent"}}
}
]
}
